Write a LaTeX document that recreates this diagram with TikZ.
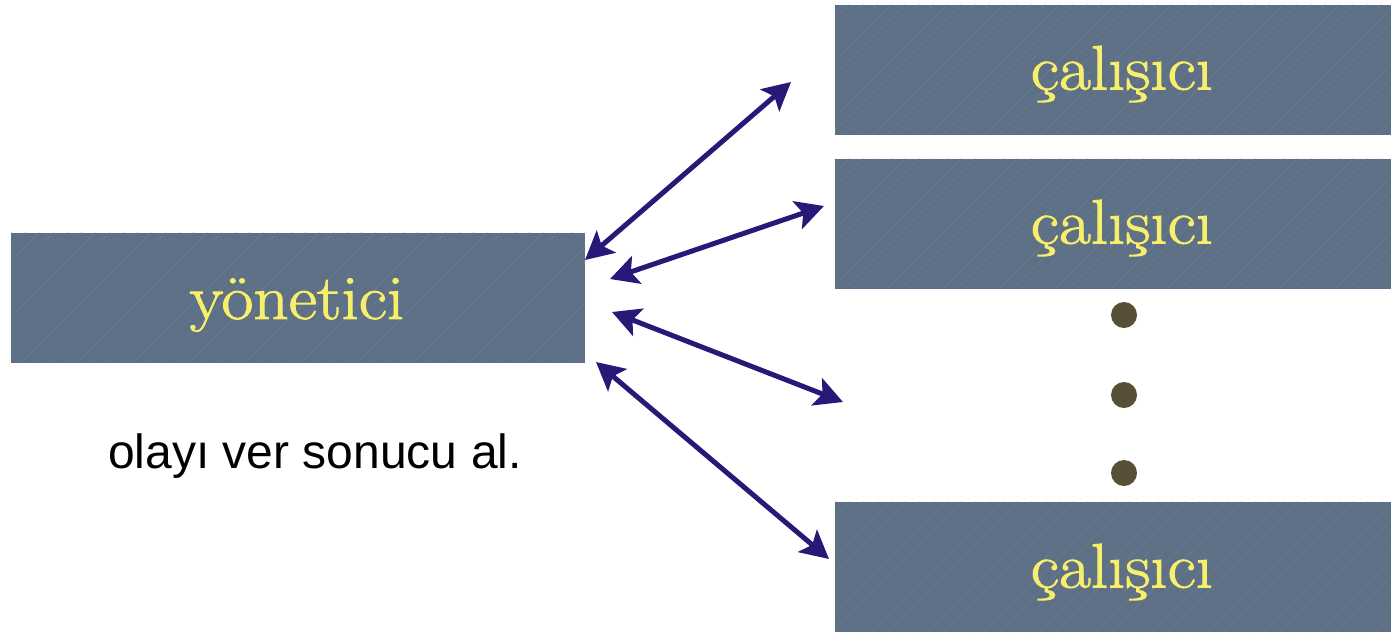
\documentclass[tikz,border=0pt]{standalone}
\usepackage{fontspec}
\newfontfamily\sansfont{Liberation Sans}
\newfontfamily\labelfont{Latin Modern Roman}[FakeStretch=1.1,FakeBold=1.5]
\usetikzlibrary{arrows.meta,calc}
\definecolor{boxfill}{HTML}{5D7086}
\definecolor{boxtex}{HTML}{7A8BA0}
\definecolor{txtyellow}{HTML}{F7EF6C}
\definecolor{arrowcol}{HTML}{2A1878}
\definecolor{dotcol}{HTML}{575036}
\begin{document}
\begin{tikzpicture}[x=1pt,y=-1pt,
  panel/.style={fill=boxfill, draw=none, minimum width=#1, inner sep=0pt, minimum height=130pt},
  panellabel/.style={text=txtyellow, font=\labelfont\fontsize{63}{68}\selectfont, inner sep=0pt},
  link/.style={draw=arrowcol, line width=5pt, {Stealth[length=28pt,width=29pt,inset=6pt]}-{Stealth[length=28pt,width=29pt,inset=6pt]}},
  dotmark/.style={circle, fill=dotcol, minimum size=26pt, inner sep=0pt}]
\useasboundingbox (0,0) rectangle (1391,635);
% boxes
\node[panel=574pt] (mgr) at (298,298) {};
\node[panel=556pt] (w1) at (1113,69.5) {};
\node[panel=556pt] (w2) at (1113,223.5) {};
\node[panel=556pt] (w3) at (1113,567) {};
% texture
\foreach \b in {mgr,w1,w2,w3}{
  \begin{scope}
    \clip (\b.south west) rectangle (\b.north east);
    \foreach \i in {0,14,...,1400}{
      \draw[boxtex, opacity=0.25, line width=1.2pt] ($(\b.south west)+(\i-200,0)$) -- ++(140,-140);
    }
  \end{scope}
}
% labels
\node[panellabel] (mgrlab) at (297,305) {yönetici};
\node[panellabel] (w1lab) at (1122,74) {çalışıcı};
\node[panellabel] (w2lab) at (1122,228) {çalışıcı};
\node[panellabel] (w3lab) at (1122,572) {çalışıcı};
\node[font=\sansfont\fontsize{48}{54}\selectfont, inner sep=0pt, anchor=base] (note) at (315,468) {olayı ver sonucu al.};
% dots
\node[dotmark] (d1) at (1124,315) {};
\node[dotmark] (d2) at (1124,395) {};
\node[dotmark] (d3) at (1124,473) {};
% arrow ends
\coordinate (a1s) at (585,260);
\coordinate (a1e) at (791,82);
\coordinate (a2s) at (610,279);
\coordinate (a2e) at (824,206);
\coordinate (a3s) at (612,312);
\coordinate (a3e) at (843,402);
\coordinate (a4s) at (596,362);
\coordinate (a4e) at (829,559);
\draw[link] (a1s) -- (a1e);
\draw[link] (a2s) -- (a2e);
\draw[link] (a3s) -- (a3e);
\draw[link] (a4s) -- (a4e);
\end{tikzpicture}
\end{document}
